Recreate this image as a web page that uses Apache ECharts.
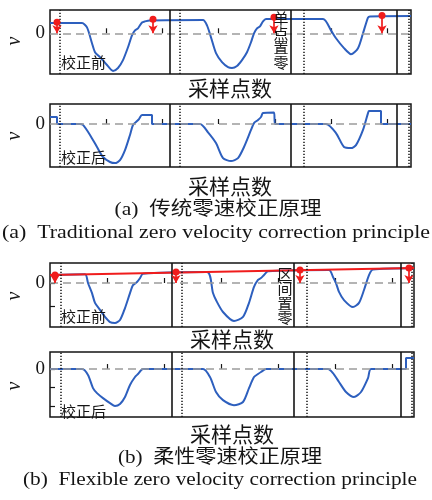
<!DOCTYPE html>
<html><head><meta charset="utf-8">
<script src="https://cdn.jsdelivr.net/npm/echarts@6/dist/echarts.min.js"></script>
<style>html,body{margin:0;padding:0;background:#fff}#c{width:432px;height:500px}</style>
</head><body><div id="c"></div>
<script>
// ---- data (x = sample index, y = velocity in panel units) ----
const aTopCurve = [[0,0.56],[32,0.56],[37,0.32],[42,-0.54],[45,-1.03],[50,-1.30],[57,-1.73],[63,-2.05],[68,-1.89],[73,-1.46],[78,-0.76],[82,-0.11],[85,0.16],[88,0.27],[92,0.59],[95,0.65],[100,0.70],[153,0.72],[157,0.43],[161,-0.22],[166,-1.08],[172,-1.57],[178,-1.84],[182,-1.89],[187,-1.78],[192,-1.46],[197,-1.03],[201,-0.49],[204,0],[207,0.27],[210,0.38],[213,0.65],[216,0.78],[273,0.78],[281,0.16],[286,-0.27],[294,-0.81],[301,-1.14],[308,-0.81],[313,0],[318,0.86],[320,0.92],[361,0.94]];
const aBottomCurve = [[0,0.38],[7,0.38],[7,0],[30,0],[33,-0.05],[40,-0.59],[47,-1.24],[53,-1.78],[60,-2.05],[65,-2.11],[70,-1.95],[75,-1.41],[80,-0.59],[83,-0.05],[87,0.16],[89,0.27],[92,0.49],[102,0.49],[102,0],[150,0],[158,-0.45],[166,-1.03],[173,-1.84],[181,-2.0],[188,-1.84],[194,-1.24],[201,-0.32],[204,0.05],[208,0.22],[211,0.38],[213,0.59],[224,0.62],[225,0],[276,0],[286,-0.49],[294,-1.24],[301,-1.30],[306,-1.14],[313,-0.32],[318,0.59],[319,0.70],[331,0.70],[331,0],[361,0]];
const bTopCurve = [[0,0.34],[35,0.37],[38,0],[42,-0.43],[45,-0.85],[50,-1.15],[55,-1.45],[60,-1.67],[65,-1.71],[70,-1.58],[75,-1.07],[80,-0.43],[83,-0.09],[87,0.04],[90,0.21],[93,0.40],[157,0.47],[163,-0.43],[166,-0.73],[173,-1.24],[184,-1.62],[193,-1.45],[199,-0.85],[204,-0.17],[208,0.13],[211,0.21],[214,0.34],[218,0.50],[279,0.56],[283,0.26],[286,0],[289,-0.38],[294,-0.73],[303,-1.03],[309,-0.85],[314,-0.30],[319,0.34],[323,0.58],[364,0.63]];
const bBottomCurve = [[0,0],[32,0],[38,-0.32],[43,-1.03],[47,-1.30],[53,-1.57],[60,-1.84],[65,-2.0],[70,-1.89],[75,-1.51],[80,-0.86],[85,-0.43],[88,-0.27],[93,0],[153,0],[160,-0.43],[166,-1.24],[173,-1.68],[184,-1.95],[193,-1.78],[199,-1.03],[204,-0.43],[208,-0.27],[211,-0.16],[216,0],[278,0],[283,-0.22],[289,-0.70],[296,-1.24],[304,-1.51],[311,-1.24],[318,-0.49],[321,0],[356,0],[356,0.59],[364,0.59]];
const bRedLine = [[0,0.34],[364,0.64]];
const aArrowX = [7,103,224,332];
const aArrowTop = [0.60,0.76,0.88,0.97];
const bArrowX = [5,126,250,359];
const bArrowTop = [0.34,0.47,0.56,0.64];
const aSolidX = [120,241,347];
const aDottedX = [10,130,254,359];
const bSolidX = [122,244,351];
const bDottedX = [11,132,257,362];
const aXTicks = [56,112,168,225,281,337];
const bXTicks = [57,114,171,228,285,342];
const xLabel = '采样点数';
const yLabel = 'v';
const zeroLabel = '0';
const beforeLabel = '校正前';
const afterLabel = '校正后';
const singleLabel = '单点置零';
const rangeLabel = '区间置零';
const captionsA = ['(a)  传统零速校正原理','(a)  Traditional zero velocity correction principle'];
const captionsB = ['(b)  柔性零速校正原理','(b)  Flexible zero velocity correction principle'];

// ---- layout ----
const panels = [
  {grid:{left:50,top:10,width:361,height:64}, xmax:361, ymin:-2.22, ymax:1.27, curve:aTopCurve, solid:aSolidX, dotted:aDottedX, xt:aXTicks, yt:[], arrows:[aArrowX,aArrowTop]},
  {grid:{left:50,top:104,width:361,height:63}, xmax:361, ymin:-2.32, ymax:1.08, curve:aBottomCurve, solid:aSolidX, dotted:aDottedX, xt:aXTicks, yt:[]},
  {grid:{left:50,top:263,width:364,height:64}, xmax:364, ymin:-1.88, ymax:0.855, curve:bTopCurve, solid:bSolidX, dotted:bDottedX, xt:bXTicks, yt:[0,-1], arrows:[bArrowX,bArrowTop], red:bRedLine},
  {grid:{left:50,top:352,width:364,height:65}, xmax:364, ymin:-2.59, ymax:0.92, curve:bBottomCurve, solid:bSolidX, dotted:bDottedX, xt:bXTicks, yt:[0,-1,-2]}
];
const BLUE = '#2d5fbe', RED = '#f01c1c', INK = '#151515';
const grid=[], xAxis=[], yAxis=[], series=[];
panels.forEach((p,i)=>{
  grid.push(Object.assign({show:true,borderColor:INK,borderWidth:1.5,backgroundColor:'transparent'},p.grid));
  xAxis.push({type:'value',gridIndex:i,min:0,max:p.xmax,axisLine:{show:false},splitLine:{show:false},axisLabel:{show:false},
    axisTick:{show:true,inside:true,length:5,customValues:p.xt,lineStyle:{color:INK,width:1.2}}});
  yAxis.push({type:'value',gridIndex:i,min:p.ymin,max:p.ymax,axisLine:{show:false},splitLine:{show:false},
    axisTick:{show:p.yt.length>0,inside:true,length:5,customValues:p.yt,lineStyle:{color:INK,width:1.2}},
    axisLabel:{customValues:[0],formatter:()=>zeroLabel,margin:5,fontFamily:'Liberation Serif',fontSize:19,color:INK}});
  series.push({type:'line',xAxisIndex:i,yAxisIndex:i,data:p.curve,symbol:'none',z:2,silent:true,animation:false,
    smooth:0.25,lineStyle:{color:BLUE,width:2}});
  const ml=[{yAxis:0,lineStyle:{color:'#9c9c9c',type:[8,5],width:1.7}}];
  p.solid.forEach(x=>ml.push({xAxis:x,lineStyle:{color:INK,width:1.6,type:'solid'}}));
  p.dotted.forEach(x=>ml.push({xAxis:x,lineStyle:{color:INK,width:1.5,type:[1.3,1.7]}}));
  series.push({type:'line',xAxisIndex:i,yAxisIndex:i,data:[],z:3,silent:true,animation:false,
    markLine:{silent:true,symbol:'none',animation:false,label:{show:false},data:ml}});
  if(p.red){
    series.push({type:'line',xAxisIndex:i,yAxisIndex:i,data:p.red,symbol:'none',z:4,silent:true,animation:false,
      lineStyle:{color:RED,width:2}});
  }
  if(p.arrows){
    const [ax,at]=p.arrows;
    series.push({type:'line',xAxisIndex:i,yAxisIndex:i,data:[],z:5,silent:true,animation:false,
      markLine:{silent:true,symbol:['circle','arrow'],symbolSize:[7,8],animation:false,label:{show:false},
        lineStyle:{color:RED,width:1.7,type:'solid'},
        data:ax.map((x,k)=>[{coord:[x,at[k]]},{coord:[x,0]}])}});
  }
});

// ---- texts ----
const CJK='"Noto Sans CJK SC"';
const graphic=[];
function T(x,y,text,font,extra){
  graphic.push(Object.assign({type:'text',x:x,y:y,z:100,silent:true,
    style:{text:text,font:font,fill:INK,align:'center',verticalAlign:'middle'}},extra||{}));
}
[[230,88],[230,186],[232,339],[232,434]].forEach(([x,y])=>T(x,y,xLabel,'21px '+CJK));
[41,136,296,386].forEach(y=>T(15,y,yLabel,'italic 20px "Liberation Serif"',{rotation:Math.PI/2}));
[[62,beforeLabel],[157,afterLabel],[316,beforeLabel],[411,afterLabel]].forEach(([y,t])=>{
  graphic.push({type:'text',x:61,y:y,z:100,silent:true,style:{text:t,font:'15px '+CJK,fill:INK,align:'left',verticalAlign:'middle'}});
});
graphic.push({type:'text',x:281,y:11,z:100,silent:true,style:{text:singleLabel.split('').join('\n'),font:'15px '+CJK,lineHeight:14.7,fill:INK,align:'center',verticalAlign:'top'}});
graphic.push({type:'text',x:285,y:267,z:100,silent:true,style:{text:rangeLabel.split('').join('\n'),font:'15px '+CJK,lineHeight:14.5,fill:INK,align:'center',verticalAlign:'top'}});
const cv=document.createElement('canvas').getContext('2d');
function cap(x,y,text,font,width){
  cv.font=font; const w=cv.measureText(text).width;
  T(x,y,text,font,{scaleX:width/w});
}
const fCn='19px "Liberation Serif", '+CJK, fEn='19px "Liberation Serif"';
cap(218,210,captionsA[0],fCn,207);
cap(216,233,captionsA[1],fEn,428);
cap(220,458,captionsB[0],fCn,204);
cap(220,480,captionsB[1],fEn,394);

const chart=echarts.init(document.getElementById('c'),null,{renderer:'canvas'});
chart.setOption({animation:false,backgroundColor:'#fff',grid,xAxis,yAxis,series,graphic});
</script></body></html>
